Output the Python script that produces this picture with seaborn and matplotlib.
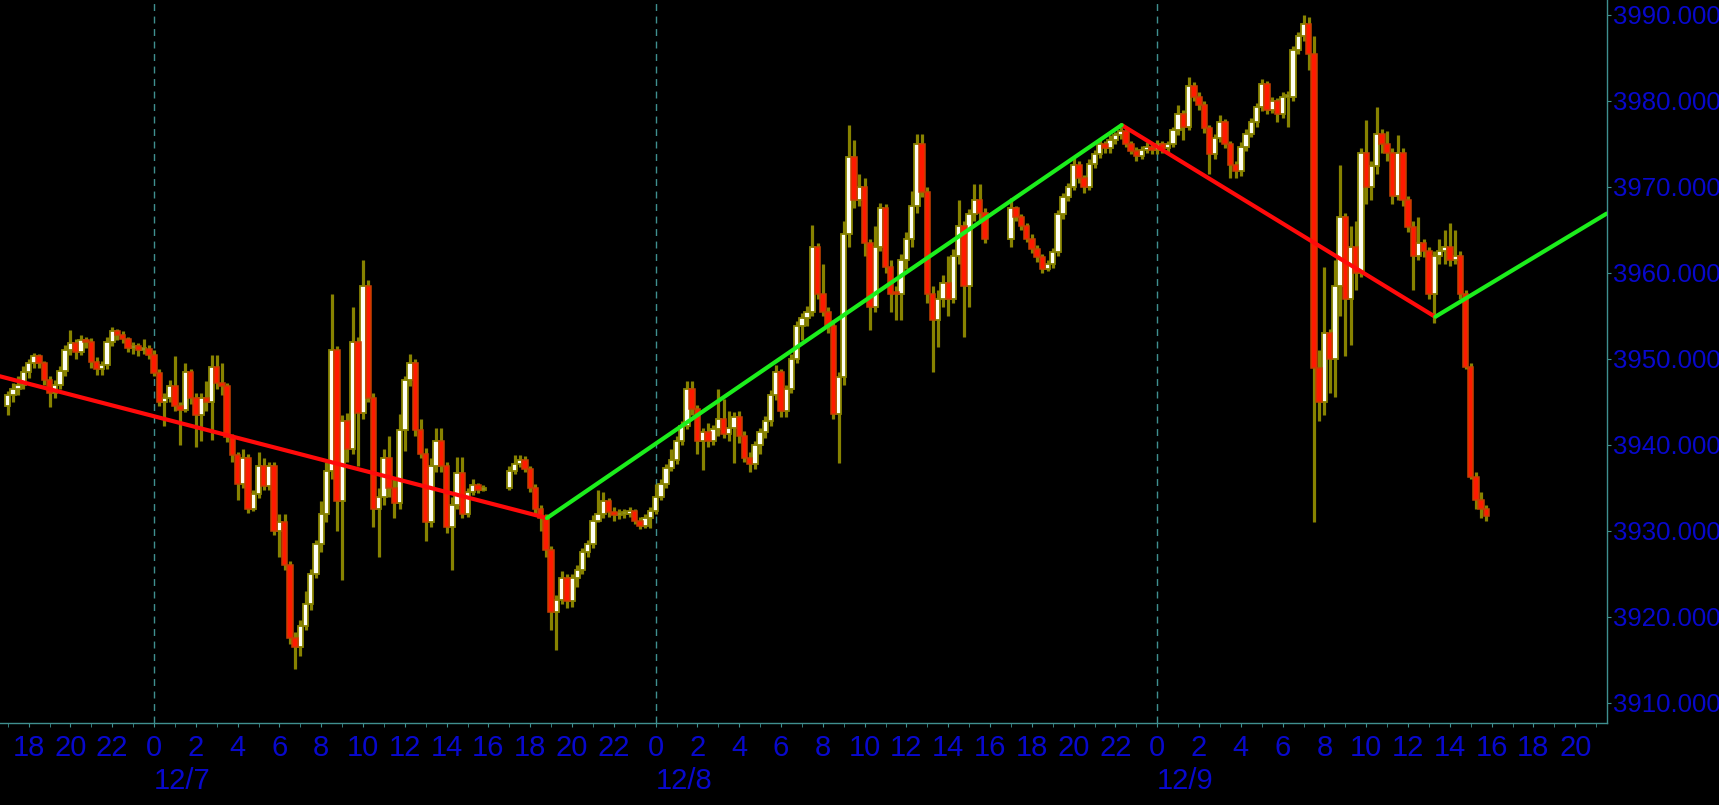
import numpy as np
import pandas as pd
import matplotlib
matplotlib.use('Agg')
import matplotlib.pyplot as plt
import seaborn as sns
from matplotlib.font_manager import FontProperties, findfont
from matplotlib.transforms import blended_transform_factory

# %% data: 15-minute bars, three sessions 17:00 -> 15:45 next day
session_starts = ['2022-12-06 17:00', '2022-12-07 17:00', '2022-12-08 17:00']
first_open = 3944.5

# session 1 (12/6 17:00 .. 12/7 15:45), one row per hour
close_s1 = [3945.8, 3946.5, 3947.0, 3948.5,  3949.5, 3950.3, 3949.5, 3947.5,
            3946.0, 3947.0, 3948.6, 3951.1,  3951.8, 3950.8, 3952.2, 3952.0,
            3949.6, 3948.8, 3949.3, 3952.0,  3953.2, 3952.8, 3952.3, 3951.3,
            3951.5, 3951.0, 3951.2, 3950.5,  3948.4, 3945.0, 3945.5, 3946.9,
            3944.5, 3944.1, 3948.5, 3945.5,  3943.5, 3945.5, 3945.0, 3949.1,
            3947.2, 3946.8, 3940.9, 3938.8,  3935.5, 3938.5, 3932.5, 3934.3,
            3937.5, 3935.2, 3937.5, 3930.0,  3931.0, 3926.0, 3917.5, 3916.5,
            3919.0, 3921.5, 3925.0, 3928.5,  3932.0, 3937.0, 3951.0, 3933.5,
            3942.8, 3939.5, 3952.0, 3943.7,  3958.5, 3945.5, 3932.5, 3934.0,
            3938.5, 3935.0, 3933.2, 3941.7,  3947.5, 3949.5, 3941.7, 3939.0,
            3931.0, 3937.5, 3940.5, 3937.5,  3930.5, 3933.0, 3936.7, 3932.0,
            3934.5, 3935.3, 3934.8, 3935.0]
high_s1 = [3946.3, 3947.2, 3948.0, 3949.2,  3950.0, 3950.7, 3950.6, 3949.8,
           3948.0, 3947.6, 3949.2, 3951.6,  3953.4, 3952.3, 3952.8, 3952.6,
           3952.4, 3950.2, 3949.8, 3952.5,  3953.7, 3953.5, 3953.2, 3952.6,
           3952.0, 3951.9, 3952.3, 3951.6,  3951.0, 3948.8, 3946.0, 3947.5,
           3950.4, 3945.0, 3949.5, 3948.8,  3946.0, 3946.0, 3947.4, 3950.5,
           3950.5, 3949.5, 3947.2, 3941.3,  3939.2, 3939.5, 3939.0, 3934.8,
           3939.2, 3938.5, 3938.0, 3938.0,  3932.0, 3932.0, 3926.5, 3918.2,
           3919.6, 3923.0, 3925.6, 3929.0,  3933.5, 3938.0, 3957.6, 3951.5,
           3943.5, 3943.7, 3956.1, 3952.6,  3961.5, 3959.2, 3946.0, 3935.0,
           3939.5, 3941.0, 3936.0, 3943.6,  3948.0, 3950.6, 3950.0, 3943.0,
           3939.6, 3938.5, 3942.0, 3942.0,  3938.0, 3934.0, 3938.6, 3938.6,
           3935.0, 3936.0, 3935.6, 3935.4]
low_s1 = [3943.5, 3945.0, 3945.8, 3946.5,  3947.8, 3948.9, 3949.0, 3947.0,
          3944.4, 3945.5, 3946.5, 3948.0,  3950.5, 3950.0, 3950.5, 3951.3,
          3949.0, 3948.1, 3948.1, 3948.8,  3951.5, 3952.2, 3951.8, 3950.8,
          3950.6, 3950.4, 3950.6, 3950.0,  3948.0, 3944.5, 3942.2, 3945.0,
          3944.0, 3940.0, 3943.8, 3944.8,  3939.8, 3940.5, 3944.0, 3940.6,
          3946.5, 3945.8, 3940.4, 3938.0,  3933.6, 3935.0, 3932.1, 3932.3,
          3933.8, 3934.8, 3934.8, 3929.5,  3927.0, 3925.5, 3916.8, 3914.0,
          3915.5, 3918.5, 3920.8, 3924.5,  3927.5, 3931.0, 3936.0, 3930.0,
          3924.3, 3938.0, 3939.0, 3937.5,  3943.0, 3945.0, 3930.5, 3927.0,
          3933.0, 3934.0, 3931.5, 3932.5,  3939.3, 3946.8, 3941.0, 3938.5,
          3928.8, 3930.5, 3936.8, 3936.8,  3929.8, 3925.5, 3932.5, 3931.5,
          3931.6, 3934.2, 3934.4, 3934.6]

# session 2 (12/7 17:00 .. 12/8 15:45)
close_s2 = [3937.0, 3937.8, 3938.3, 3937.2,  3935.0, 3932.5, 3931.5, 3927.8,
            3920.6, 3922.0, 3924.5, 3921.8,  3924.5, 3925.5, 3927.5, 3928.5,
            3931.2, 3932.0, 3933.5, 3932.2,  3931.8, 3932.0, 3932.0, 3932.3,
            3931.2, 3930.6, 3931.5, 3932.3,  3934.0, 3935.5, 3937.3, 3938.3,
            3940.5, 3942.2, 3946.5, 3944.2,  3940.5, 3941.5, 3940.5, 3941.8,
            3943.0, 3941.3, 3942.0, 3943.2,  3941.0, 3938.5, 3937.8, 3940.0,
            3941.5, 3942.8, 3945.8, 3948.5,  3944.0, 3946.5, 3950.0, 3953.8,
            3954.8, 3955.5, 3963.0, 3957.5,  3955.5, 3953.8, 3943.6, 3947.9,
            3964.5, 3973.5, 3968.5, 3970.0,  3963.5, 3956.1, 3963.0, 3967.5,
            3960.7, 3957.6, 3957.5, 3961.5,  3964.0, 3967.8, 3975.0, 3969.4,
            3957.6, 3954.5, 3957.0, 3958.8,  3957.0, 3962.0, 3965.5, 3958.5,
            3966.8, 3968.5, 3967.0, 3964.0]
high_s2 = [3937.5, 3938.8, 3938.8, 3938.7,  3937.6, 3935.5, 3933.0, 3932.0,
           3928.2, 3922.5, 3925.3, 3925.0,  3925.0, 3926.0, 3928.0, 3929.0,
           3931.8, 3934.8, 3934.5, 3933.8,  3932.8, 3932.6, 3932.5, 3932.8,
           3932.6, 3931.6, 3932.0, 3932.8,  3935.5, 3936.0, 3937.8, 3939.5,
           3941.0, 3942.8, 3947.4, 3947.4,  3944.6, 3942.0, 3942.5, 3942.3,
           3946.5, 3945.4, 3944.0, 3943.8,  3944.0, 3941.6, 3939.2, 3940.5,
           3942.0, 3943.4, 3946.4, 3949.3,  3948.8, 3947.0, 3950.6, 3954.4,
           3955.3, 3956.2, 3965.6, 3963.5,  3961.1, 3956.0, 3954.5, 3948.5,
           3966.0, 3977.2, 3975.5, 3971.5,  3971.0, 3964.0, 3965.5, 3968.1,
           3968.0, 3961.5, 3958.5, 3962.2,  3964.8, 3969.5, 3976.2, 3976.2,
           3970.0, 3958.5, 3958.0, 3959.8,  3962.0, 3962.8, 3968.5, 3966.0,
           3967.4, 3970.4, 3970.4, 3967.5]
low_s2 = [3934.8, 3936.6, 3937.4, 3936.8,  3934.5, 3932.0, 3930.0, 3927.0,
          3918.5, 3916.2, 3921.5, 3921.0,  3921.2, 3923.5, 3925.0, 3927.0,
          3928.0, 3931.0, 3931.5, 3931.6,  3931.2, 3931.4, 3931.5, 3931.6,
          3930.8, 3930.2, 3930.3, 3930.3,  3932.0, 3933.6, 3935.0, 3937.0,
          3937.8, 3940.0, 3941.8, 3943.5,  3939.0, 3937.1, 3939.8, 3940.0,
          3941.0, 3940.8, 3940.5, 3937.9,  3940.2, 3938.0, 3936.8, 3937.2,
          3939.0, 3940.8, 3942.2, 3945.2,  3943.3, 3943.3, 3946.0, 3949.5,
          3952.2, 3953.8, 3955.0, 3957.0,  3955.0, 3953.0, 3943.0, 3937.9,
          3947.0, 3963.0, 3967.5, 3967.8,  3962.0, 3953.4, 3955.5, 3962.5,
          3960.0, 3955.5, 3954.5, 3954.5,  3960.5, 3963.0, 3967.0, 3968.8,
          3956.5, 3948.5, 3951.4, 3956.0,  3955.0, 3956.5, 3961.0, 3952.5,
          3956.0, 3966.0, 3966.0, 3963.5]

# session 3 (12/8 17:00 .. 12/9 15:45)
close_s3 = [3967.5, 3966.5, 3965.5, 3964.0,  3962.8, 3961.8, 3960.5, 3961.0,
            3962.4, 3966.8, 3968.8, 3970.0,  3972.5, 3971.0, 3970.0, 3972.7,
            3973.8, 3975.0, 3974.5, 3975.5,  3976.0, 3976.5, 3975.0, 3974.2,
            3973.6, 3974.3, 3974.7, 3974.3,  3975.0, 3974.5, 3975.0, 3976.6,
            3978.5, 3977.0, 3981.7, 3980.5,  3979.5, 3976.8, 3973.8, 3975.7,
            3977.5, 3975.0, 3972.5, 3971.8,  3974.7, 3976.2, 3977.5, 3979.3,
            3982.0, 3979.0, 3980.0, 3978.5,  3980.5, 3980.5, 3985.9, 3987.5,
            3989.0, 3985.5, 3949.0, 3945.0,  3953.0, 3950.0, 3958.5, 3966.5,
            3957.0, 3963.0, 3960.0, 3974.0,  3970.0, 3972.4, 3976.2, 3975.0,
            3974.0, 3969.0, 3974.0, 3968.5,  3965.4, 3962.0, 3963.5, 3962.5,
            3957.6, 3962.0, 3962.5, 3963.0,  3961.5, 3962.0, 3957.6, 3949.1,
            3936.3, 3933.6, 3932.5, 3931.7]
high_s3 = [3968.7, 3967.8, 3966.8, 3965.8,  3964.5, 3963.2, 3962.2, 3961.5,
           3962.9, 3967.3, 3969.3, 3970.5,  3973.5, 3973.0, 3971.4, 3973.2,
           3974.3, 3975.5, 3975.4, 3976.0,  3976.4, 3977.0, 3976.8, 3975.4,
           3974.6, 3974.8, 3975.2, 3975.0,  3975.5, 3975.3, 3975.4, 3977.0,
           3979.5, 3978.9, 3982.8, 3982.2,  3981.0, 3980.0, 3977.2, 3976.2,
           3978.4, 3977.9, 3975.4, 3973.0,  3975.2, 3976.7, 3978.0, 3979.8,
           3982.6, 3982.3, 3980.5, 3980.4,  3981.0, 3981.2, 3986.4, 3988.0,
           3990.0, 3989.8, 3987.5, 3951.0,  3960.7, 3953.5, 3961.5, 3972.6,
           3967.0, 3965.5, 3966.0, 3974.5,  3977.8, 3973.0, 3979.3, 3976.7,
           3976.5, 3974.5, 3976.0, 3974.5,  3969.0, 3966.0, 3966.5, 3964.0,
           3963.0, 3962.6, 3964.0, 3965.0,  3965.8, 3965.0, 3962.5, 3958.0,
           3949.5, 3936.8, 3934.5, 3933.0]
low_s3 = [3963.0, 3966.0, 3965.0, 3963.6,  3962.3, 3961.3, 3960.0, 3960.2,
          3960.6, 3962.0, 3966.3, 3968.4,  3969.6, 3970.5, 3969.3, 3969.6,
          3972.2, 3973.4, 3974.0, 3974.0,  3975.0, 3975.6, 3974.6, 3973.8,
          3973.0, 3973.2, 3973.9, 3973.8,  3973.8, 3974.0, 3974.1, 3974.6,
          3976.0, 3975.5, 3976.6, 3980.0,  3979.0, 3976.3, 3971.5, 3973.3,
          3975.2, 3974.5, 3971.0, 3971.0,  3971.3, 3974.2, 3975.8, 3977.0,
          3978.8, 3978.5, 3978.6, 3977.5,  3978.0, 3977.0, 3980.0, 3985.5,
          3987.0, 3983.6, 3931.0, 3942.8,  3943.5, 3946.0, 3945.6, 3955.0,
          3950.3, 3951.6, 3958.0, 3959.5,  3968.0, 3968.5, 3971.5, 3974.0,
          3973.0, 3968.0, 3968.5, 3967.8,  3964.8, 3958.0, 3961.5, 3961.8,
          3957.0, 3954.2, 3961.0, 3961.0,  3960.8, 3961.0, 3957.0, 3948.8,
          3936.0, 3932.6, 3931.5, 3931.2]

# trend lines (hours from 12/7 00:00, price)
red_lines = [([-7.4, 18.8], [3948.0, 3931.5]), ([46.3, 61.3], [3977.2, 3954.9])]
green_lines = [([18.8, 46.3], [3931.5, 3977.2]), ([61.3, 69.5], [3954.9, 3966.9])]

y_ticks = [3910, 3920, 3930, 3940, 3950, 3960, 3970, 3980, 3990]
day_labels = ['12/7', '12/8', '12/9']

# %% build the bar table
origin = pd.Timestamp('2022-12-07 00:00')
times = []
for s in session_starts:
    rng = pd.date_range(s, periods=92, freq='15min')
    times += list((rng - origin) / pd.Timedelta(hours=1))
df = pd.DataFrame({
    't': times,
    'close': close_s1 + close_s2 + close_s3,
    'high': high_s1 + high_s2 + high_s3,
    'low': low_s1 + low_s2 + low_s3,
})
df['open'] = df['close'].shift(1).fillna(first_open)
df['high'] = df[['high', 'open', 'close']].max(axis=1)
df['low'] = df[['low', 'open', 'close']].min(axis=1)
df['up'] = df['close'] >= df['open']
df['bottom'] = df[['open', 'close']].min(axis=1)
df['body'] = (df['close'] - df['open']).abs().clip(lower=0.25)

# %% style
sns.set_style('dark', {'axes.facecolor': 'black', 'figure.facecolor': 'black'})
try:
    findfont(FontProperties(family='Liberation Sans Narrow'), fallback_to_default=False)
    fam = 'Liberation Sans Narrow'
except Exception:
    fam = 'Liberation Sans'
plt.rcParams['font.family'] = [fam, 'DejaVu Sans']

BLUE = '#0808cc'
TEAL = '#3f8f8f'
OLIVE = '#878200'
RED = '#ff1a00'
RED_EDGE = '#c84000'
WHITE = '#fffff4'

fig = plt.figure(figsize=(17.19, 8.05), dpi=100)
ax = fig.add_axes([0, 82 / 805, 1607 / 1719, 723 / 805])
ax.set_facecolor('black')

# wicks then bodies
ax.vlines(df['t'], df['low'], df['high'], color=OLIVE, lw=2.3, zorder=2)
up = df[df['up']]
dn = df[~df['up']]
ax.bar(up['t'], up['body'], bottom=up['bottom'], width=0.26, color=WHITE,
       edgecolor=OLIVE, linewidth=1.3, zorder=3)
ax.bar(dn['t'], dn['body'], bottom=dn['bottom'], width=0.26, color=RED,
       edgecolor=RED_EDGE, linewidth=1.1, zorder=3)

for xs, ys in red_lines:
    sns.lineplot(x=xs, y=ys, ax=ax, color='#ff0a0a', linewidth=3.0, zorder=5)
for xs, ys in green_lines:
    sns.lineplot(x=xs, y=ys, ax=ax, color='#1cee1c', linewidth=3.0, zorder=5)

for d in [0, 24, 48]:
    ax.axvline(d, color=TEAL, lw=1.0, ls=(0, (5, 4)), zorder=1)

ax.set_xlim(-7.37, 69.52)
ax.set_ylim(3907.67, 3991.74)
ax.grid(False)

# axes / ticks
for side in ['top', 'left']:
    ax.spines[side].set_visible(False)
for side in ['right', 'bottom']:
    ax.spines[side].set_visible(True)
    ax.spines[side].set_color(TEAL)
    ax.spines[side].set_linewidth(1.0)

major = np.arange(-6, 69, 2)
ax.set_xticks(major)
ax.set_xticklabels([str(int(h % 24)) for h in major])
ax.set_xticks(np.arange(-7, 70, 1), minor=True)
ax.tick_params(axis='x', which='both', bottom=True, direction='out', length=3,
               color=TEAL, labelcolor=BLUE, labelsize=21, pad=5)

ax.yaxis.tick_right()
ax.set_yticks(y_ticks)
ax.set_yticklabels([f'{v:.3f}' for v in y_ticks])
ax.tick_params(axis='y', which='both', right=True, left=False, direction='out',
               length=3, color=TEAL, labelcolor=BLUE, labelsize=18.5, pad=1.5)
ax.set_xlabel('')
ax.set_ylabel('')

trans = blended_transform_factory(ax.transData, fig.transFigure)
for d, lab in zip([0, 24, 48], day_labels):
    ax.text(d, 16 / 805, lab, transform=trans, ha='left', va='baseline',
            color=BLUE, fontsize=21)

fig.savefig('out.png', dpi=100, facecolor='black')
